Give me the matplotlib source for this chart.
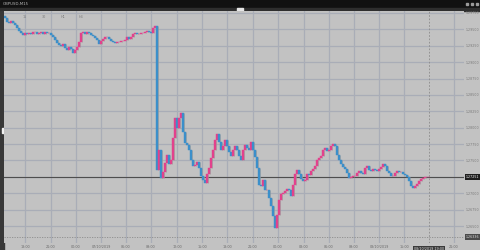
import matplotlib
matplotlib.use("Agg")
import matplotlib.pyplot as plt
from matplotlib.patches import Rectangle

# ---------------- data ----------------
symbol_title = "GBPUSD,M15"
first_open = 1.29700
closes = [
    1.29674, 1.29613, 1.29597, 1.29628, 1.29597, 1.29567, 1.29521, 1.29476, 1.29445, 1.29415,
    1.29445, 1.29430, 1.29445, 1.29430, 1.29460, 1.29460, 1.29430, 1.29445, 1.29460, 1.29430,
    1.29460, 1.29445, 1.29445, 1.29415, 1.29384, 1.29338, 1.29293, 1.29262, 1.29247, 1.29277,
    1.29216, 1.29186, 1.29232, 1.29201, 1.29140, 1.29186, 1.29232, 1.29308, 1.29445, 1.29460,
    1.29430, 1.29460, 1.29445, 1.29415, 1.29399, 1.29369, 1.29338, 1.29277, 1.29323, 1.29354,
    1.29384, 1.29384, 1.29354, 1.29323, 1.29308, 1.29293, 1.29308, 1.29308, 1.29323, 1.29323,
    1.29338, 1.29384, 1.29354, 1.29384, 1.29430, 1.29445, 1.29430, 1.29430, 1.29445, 1.29445,
    1.29460, 1.29476, 1.29460, 1.29445, 1.29521, 1.29552,
    1.27357, 1.27662, 1.27235, 1.27327, 1.27464, 1.27586, 1.27449, 1.27510, 1.27845, 1.28150,
    1.27997, 1.28150, 1.28226, 1.27936, 1.27769, 1.27738, 1.27662, 1.27510, 1.27418, 1.27433,
    1.27479, 1.27388, 1.27266, 1.27205, 1.27159, 1.27296, 1.27388, 1.27540, 1.27662, 1.27814,
    1.27906, 1.27784, 1.27662, 1.27723, 1.27814, 1.27723, 1.27632, 1.27571, 1.27662, 1.27723,
    1.27662, 1.27571, 1.27510, 1.27662, 1.27738, 1.27692, 1.27662, 1.27784, 1.27662, 1.27555,
    1.27388, 1.27129, 1.27113, 1.27205, 1.27052, 1.27052, 1.26930, 1.26809, 1.26656, 1.26473,
    1.26671, 1.26900, 1.26991, 1.27007, 1.27037, 1.27068, 1.27052, 1.26961, 1.27129, 1.27296,
    1.27357, 1.27296, 1.27220, 1.27190, 1.27205, 1.27296, 1.27281, 1.27342, 1.27372, 1.27418,
    1.27510, 1.27540, 1.27571, 1.27662, 1.27692, 1.27647, 1.27662, 1.27723, 1.27753, 1.27723,
    1.27586, 1.27510, 1.27449, 1.27403, 1.27372, 1.27311, 1.27235, 1.27251, 1.27266, 1.27266,
    1.27311, 1.27342, 1.27311, 1.27296, 1.27388, 1.27418, 1.27357, 1.27342, 1.27372, 1.27357,
    1.27342, 1.27372, 1.27403, 1.27449, 1.27418, 1.27342, 1.27311, 1.27266, 1.27266, 1.27311,
    1.27342, 1.27327, 1.27327, 1.27296, 1.27281, 1.27251, 1.27190, 1.27113, 1.27083, 1.27113,
    1.27144, 1.27190, 1.27220, 1.27235, 1.27251, 1.27251, 1.27251,
]
price_ticks = [1.26500, 1.26750, 1.27000, 1.27250, 1.27500, 1.27750, 1.28000,
               1.28250, 1.28500, 1.28750, 1.29000, 1.29250, 1.29500, 1.29750]
price_labels = ["1.26500", "1.26750", "1.27000", "1.27250", "1.27500", "1.27750", "1.28000",
                "1.28250", "1.28500", "1.28750", "1.29000", "1.29250", "1.29500", "1.29750"]
time_ticks = [10, 23, 35.5, 48, 60.5, 73, 86, 98.5, 111, 124, 136.5, 149.5,
              162, 174.5, 187, 199.5, 224.5]
time_labels = ["18:00", "21:00", "00:00", "07/10/2019", "06:00", "09:00", "12:00", "15:00",
               "18:00", "21:00", "00:00", "03:00", "06:00", "09:00", "08/10/2019",
               "15:00", "21:00"]
current_bar = 212
current_time_label = "08/10/2019 19:00"
level_price = 1.26336
top_tags = ["15", "30", "H1", "H4"]
top_tag_bars = [10, 19.5, 29, 38]

# ---------------- colours ----------------
BG = "#c2c2c2"
GRID = "#a9adb7"
UP = "#e2418c"
DOWN = "#3b8fca"
WICK = "#9a9a9a"

W, H = 480, 250
fig = plt.figure(figsize=(W / 100, H / 100), dpi=100)
fig.patch.set_facecolor(BG)

# chrome (pixel coordinates of the window frame)
bg = fig.add_axes([0, 0, 1, 1], zorder=0)
bg.set_xlim(0, W)
bg.set_ylim(H, 0)
bg.axis("off")
bg.add_patch(Rectangle((0, 0), W, 7.5, color="#111111"))
bg.add_patch(Rectangle((0, 7.5), W, 3.5, color="#2e2e2e"))
bg.add_patch(Rectangle((237, 8), 6, 2.5, color="#e6e6e6"))
bg.add_patch(Rectangle((0, 11), 3.5, H - 11, color="#383838"))
bg.add_patch(Rectangle((1.5, 128), 2, 5, color="#f0f0f0"))
for xi in (465.5, 470.5, 475.5):
    bg.add_patch(Rectangle((xi, 2.5), 2.5, 2.5, color="#9a9a9a"))
bg.text(3, 3.8, symbol_title, fontsize=2.8, color="#b8b8b8", va="center", ha="left")

# main chart
ax = fig.add_axes([4 / W, (H - 243) / H, 460 / W, 232 / H], zorder=1)
ax.set_facecolor(BG)
n = len(closes)
xs = list(range(n))
opens = [first_open] + closes[:-1]
heights = [c - o for o, c in zip(opens, closes)]
cols = [UP if c >= o else DOWN for o, c in zip(opens, closes)]
lo = [min(o, c) for o, c in zip(opens, closes)]
hi = [max(o, c) for o, c in zip(opens, closes)]
ax.vlines([x + 0.35 for x in xs], lo, hi, color=WICK, linewidth=0.5, zorder=2.5)
ax.bar(xs, heights, bottom=opens, width=0.6, color=cols, edgecolor=cols,
       linewidth=0.3, zorder=3)

ax.set_xlim(-0.5, 229.5)
ax.set_ylim(1.26241, 1.29780)

ax.set_yticks(price_ticks)
ax.set_yticklabels(price_labels)
ax.set_xticks(time_ticks)
ax.set_xticklabels(time_labels)
ax.yaxis.tick_right()
ax.tick_params(axis="y", length=0, labelsize=2.3, labelcolor="#7a7a7a", pad=1.5)
ax.tick_params(axis="x", length=0, labelsize=2.4, labelcolor="#6a6a6a", pad=1.6)
ax.grid(True, color=GRID, linewidth=0.9, zorder=0)
for s in ax.spines.values():
    s.set_visible(False)

# current price line and label
last = closes[-1]
ax.axhline(last, color="#4e4e4e", linewidth=0.8, zorder=2)
ax.annotate(f"{last:.5f}", xy=(1.0, last), xycoords=("axes fraction", "data"),
            xytext=(1.5, 0), textcoords="offset points", fontsize=2.3, color="white",
            va="center", ha="left", annotation_clip=False,
            bbox=dict(boxstyle="square,pad=0.25", fc="#1e1e1e", ec="none"))
# level line
ax.axhline(level_price, color="#8c8c8c", linewidth=0.6, linestyle=(0, (1.5, 1.5)), zorder=2)
ax.annotate(f"{level_price:.5f}", xy=(1.0, level_price), xycoords=("axes fraction", "data"),
            xytext=(1.5, 0), textcoords="offset points", fontsize=2.3, color="#dddddd",
            va="center", ha="left", annotation_clip=False,
            bbox=dict(boxstyle="square,pad=0.25", fc="#4a4a4a", ec="none"))
# current time dashed line and label
ax.axvline(current_bar, color="#8a8a8a", linewidth=0.6, linestyle=(0, (2, 2)), zorder=2)
ax.annotate(current_time_label, xy=(current_bar, 0), xycoords=("data", "axes fraction"),
            xytext=(0, -4.3), textcoords="offset points", fontsize=2.4, color="#dddddd",
            va="center", ha="center", annotation_clip=False,
            bbox=dict(boxstyle="square,pad=0.3", fc="#3a3a3a", ec="none"))
# right axis border (dotted) and bottom axis (dotted)
ax.axvline(229.5, color="#8a8a8a", linewidth=0.6, linestyle=(0, (1.5, 1.5)), zorder=2)
ax.axhline(1.26241, color="#8a8a8a", linewidth=0.6, linestyle=(0, (1.5, 1.5)), zorder=2)

for t, b in zip(top_tags, top_tag_bars):
    ax.text(b, 1.2969, t, fontsize=2.4, color="#7a7a7a", ha="center", va="center")

fig.savefig("out.png", dpi=100, facecolor=BG)
